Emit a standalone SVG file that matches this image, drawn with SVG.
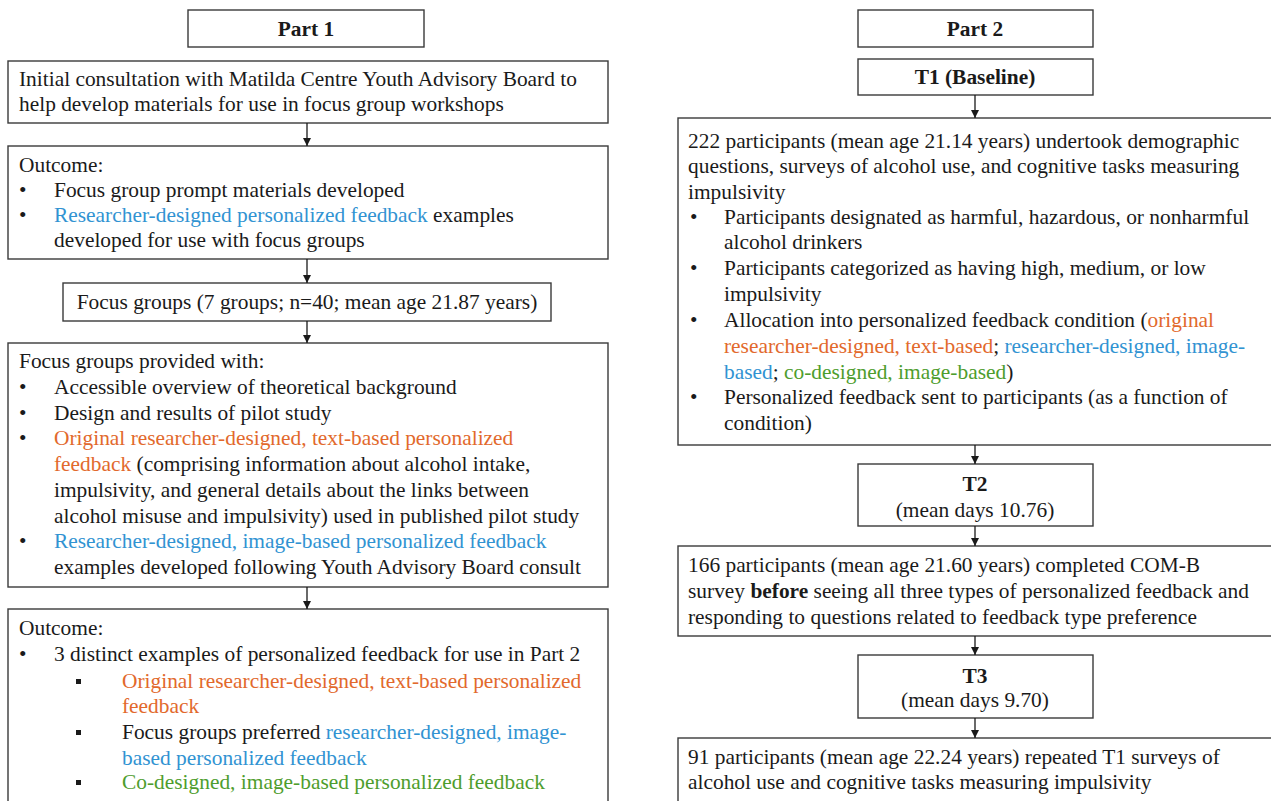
<svg xmlns="http://www.w3.org/2000/svg" width="1271" height="801" viewBox="0 0 1271 801">
  <style>
    .box { fill: #ffffff; stroke: #3a3a3a; stroke-width: 1.4; }
    .t { font-family: "Liberation Serif", "Times New Roman", serif; font-size: 21.4px; fill: #1a1a1a; }
    .b { font-weight: bold; }
    .c { text-anchor: middle; }
    .or { fill: #e2692c; }
    .bl { fill: #3193d2; }
    .gr { fill: #4e9d2d; }
    .sq { fill: #1a1a1a; }
    .link { stroke: #1a1a1a; stroke-width: 1.3; fill: none; marker-end: url(#head); }
  </style>
  <defs>
    <marker id="head" viewBox="0 0 10 10" refX="10" refY="5" markerWidth="8" markerHeight="8" markerUnits="userSpaceOnUse" orient="auto">
      <path d="M0,0 L10,5 L0,10 z" fill="#1a1a1a"/>
    </marker>
  </defs>
  <rect width="1271" height="801" fill="#ffffff"/>

  <!-- Part 1 column -->
  <g id="part1-title">
    <rect class="box" x="188" y="10" width="236" height="37"/>
    <text class="t b c" x="306" y="36">Part 1</text>
  </g>
  <g id="consultation">
    <rect class="box" x="8" y="61" width="600" height="62"/>
    <text class="t" x="19" y="86">Initial consultation with Matilda Centre Youth Advisory Board to</text>
    <text class="t" x="19" y="111">help develop materials for use in focus group workshops</text>
  </g>
  <g id="outcome-1">
    <rect class="box" x="8" y="146" width="600" height="113"/>
    <text class="t" x="19" y="172">Outcome:</text>
    <text class="t" x="19" y="197">•</text>
    <text class="t" x="54" y="197">Focus group prompt materials developed</text>
    <text class="t" x="19" y="222">•</text>
    <text class="t" x="54" y="222"><tspan class="bl">Researcher-designed personalized feedback</tspan> examples</text>
    <text class="t" x="54" y="247">developed for use with focus groups</text>
  </g>
  <g id="focus-groups">
    <rect class="box" x="63" y="283" width="488" height="38"/>
    <text class="t c" x="307" y="309">Focus groups (7 groups; n=40; mean age 21.87 years)</text>
  </g>
  <g id="provided-with">
    <rect class="box" x="8" y="343" width="600" height="244"/>
    <text class="t" x="19" y="368">Focus groups provided with:</text>
    <text class="t" x="19" y="394">•</text>
    <text class="t" x="54" y="394">Accessible overview of theoretical background</text>
    <text class="t" x="19" y="420">•</text>
    <text class="t" x="54" y="420">Design and results of pilot study</text>
    <text class="t" x="19" y="445">•</text>
    <text class="t or" x="54" y="445">Original researcher-designed, text-based personalized</text>
    <text class="t" x="54" y="471"><tspan class="or">feedback</tspan> (comprising information about alcohol intake,</text>
    <text class="t" x="54" y="497">impulsivity, and general details about the links between</text>
    <text class="t" x="54" y="523">alcohol misuse and impulsivity) used in published pilot study</text>
    <text class="t" x="19" y="548">•</text>
    <text class="t bl" x="54" y="548">Researcher-designed, image-based personalized feedback</text>
    <text class="t" x="54" y="574">examples developed following Youth Advisory Board consult</text>
  </g>
  <g id="outcome-2">
    <rect class="box" x="8" y="609" width="600" height="200"/>
    <text class="t" x="19" y="635">Outcome:</text>
    <text class="t" x="19" y="661">•</text>
    <text class="t" x="54" y="661">3 distinct examples of personalized feedback for use in Part 2</text>
    <rect class="sq" x="76" y="679" width="5" height="5"/>
    <text class="t or" x="122" y="688">Original researcher-designed, text-based personalized</text>
    <text class="t or" x="122" y="713">feedback</text>
    <rect class="sq" x="76" y="730" width="5" height="5"/>
    <text class="t" x="122" y="739">Focus groups preferred <tspan class="bl">researcher-designed, image-</tspan></text>
    <text class="t bl" x="122" y="765">based personalized feedback</text>
    <rect class="sq" x="76" y="780" width="5" height="5"/>
    <text class="t gr" x="122" y="789">Co-designed, image-based personalized feedback</text>
  </g>

  <!-- Part 2 column -->
  <g id="part2-title">
    <rect class="box" x="858" y="10" width="235" height="37"/>
    <text class="t b c" x="975" y="36">Part 2</text>
  </g>
  <g id="t1">
    <rect class="box" x="858" y="59" width="235" height="36"/>
    <text class="t b c" x="975" y="84">T1 (Baseline)</text>
  </g>
  <g id="baseline-detail">
    <rect class="box" x="678" y="118" width="600" height="327"/>
    <text class="t" x="688" y="148">222 participants (mean age 21.14 years) undertook demographic</text>
    <text class="t" x="688" y="173">questions, surveys of alcohol use, and cognitive tasks measuring</text>
    <text class="t" x="688" y="199">impulsivity</text>
    <text class="t" x="690" y="224">•</text>
    <text class="t" x="724" y="224">Participants designated as harmful, hazardous, or nonharmful</text>
    <text class="t" x="724" y="249">alcohol drinkers</text>
    <text class="t" x="690" y="275">•</text>
    <text class="t" x="724" y="275">Participants categorized as having high, medium, or low</text>
    <text class="t" x="724" y="301">impulsivity</text>
    <text class="t" x="690" y="327">•</text>
    <text class="t" x="724" y="327">Allocation into personalized feedback condition (<tspan class="or">original</tspan></text>
    <text class="t" x="724" y="353"><tspan class="or">researcher-designed, text-based</tspan>; <tspan class="bl">researcher-designed, image-</tspan></text>
    <text class="t" x="724" y="379"><tspan class="bl">based</tspan>; <tspan class="gr">co-designed, image-based</tspan>)</text>
    <text class="t" x="690" y="404">•</text>
    <text class="t" x="724" y="404">Personalized feedback sent to participants (as a function of</text>
    <text class="t" x="724" y="430">condition)</text>
  </g>
  <g id="t2">
    <rect class="box" x="858" y="464" width="235" height="62"/>
    <text class="t b c" x="975" y="491">T2</text>
    <text class="t c" x="975" y="517">(mean days 10.76)</text>
  </g>
  <g id="comb-survey">
    <rect class="box" x="678" y="546" width="600" height="90"/>
    <text class="t" x="688" y="572">166 participants (mean age 21.60 years) completed COM-B</text>
    <text class="t" x="688" y="598">survey <tspan class="b">before</tspan> seeing all three types of personalized feedback and</text>
    <text class="t" x="688" y="624">responding to questions related to feedback type preference</text>
  </g>
  <g id="t3">
    <rect class="box" x="858" y="655" width="235" height="63"/>
    <text class="t b c" x="975" y="683">T3</text>
    <text class="t c" x="975" y="707">(mean days 9.70)</text>
  </g>
  <g id="followup">
    <rect class="box" x="678" y="738" width="600" height="80"/>
    <text class="t" x="688" y="764">91 participants (mean age 22.24 years) repeated T1 surveys of</text>
    <text class="t" x="688" y="789">alcohol use and cognitive tasks measuring impulsivity</text>
  </g>

  <!-- Connectors -->
  <g id="connectors">
    <line class="link" x1="307" y1="123" x2="307" y2="146"/>
    <line class="link" x1="307" y1="259" x2="307" y2="283"/>
    <line class="link" x1="307" y1="321" x2="307" y2="343"/>
    <line class="link" x1="307" y1="587" x2="307" y2="609"/>
    <line class="link" x1="975" y1="95" x2="975" y2="118"/>
    <line class="link" x1="975" y1="445" x2="975" y2="464"/>
    <line class="link" x1="975" y1="526" x2="975" y2="546"/>
    <line class="link" x1="975" y1="636" x2="975" y2="655"/>
    <line class="link" x1="975" y1="718" x2="975" y2="738"/>
  </g>
</svg>
